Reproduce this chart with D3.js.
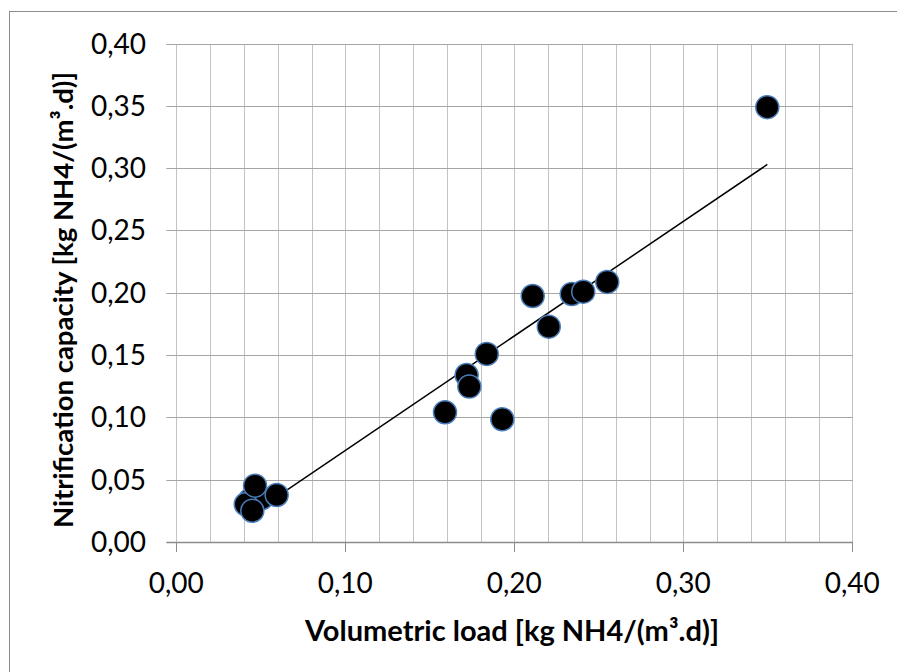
<!DOCTYPE html>
<html>
<head>
<meta charset="utf-8">
<script src="https://cdn.jsdelivr.net/npm/d3@7"></script>
<style>
  body { margin: 0; background: #fff; }
  svg text { font-family: Lato, "Open Sans", sans-serif; fill: #000; }
</style>
</head>
<body>
<svg id="chart" width="897" height="672"></svg>
<script>
// values (drawing order follows overlaps)
var loadValues = [0.0436, 0.0505, 0.0411, 0.0594, 0.0450, 0.0466, 0.159, 0.1718, 0.1734, 0.1837, 0.1929, 0.2109, 0.2204, 0.234, 0.2408, 0.255, 0.3497];
var capacityValues = [0.0337, 0.0351, 0.0303, 0.0377, 0.0251, 0.0452, 0.1041, 0.134, 0.1247, 0.1509, 0.0985, 0.1974, 0.1728, 0.199, 0.2009, 0.2087, 0.3489];
var xTicks = [0, 0.1, 0.2, 0.3, 0.4];
var xGrid = d3.range(0, 0.4001, 0.02);
var yTicks = [0, 0.05, 0.1, 0.15, 0.2, 0.25, 0.3, 0.35, 0.4];
var xTitle = "Volumetric load [kg NH4/(m³.d)]";
var yTitle = "Nitrification capacity [kg NH4/(m³.d)]";

var svg = d3.select("#chart");
var plotLeft = 176.3, plotRight = 852.3, plotTop = 43.5, plotBottom = 542;

var x = d3.scaleLinear().domain([0, 0.4]).range([plotLeft, plotRight]);
var y = d3.scaleLinear().domain([0, 0.4]).range([plotBottom, plotTop]);
var fmt = function(d){ return d3.format(".2f")(d).replace(".", ","); };
var px = function(v){ return Math.round(v) + 0.5; };

// chart border (runs off the right and bottom edge)
svg.append("rect")
	.attr("x", 9.5).attr("y", 11.5)
	.attr("width", 900).attr("height", 680)
	.attr("fill", "none").attr("stroke", "#8c8c8c").attr("stroke-width", 1);

// vertical grid every 0.02
svg.append("g")
	.selectAll("line")
	.data(xGrid)
	.join("line")
	.attr("x1", function(d){ return px(x(d)); })
	.attr("x2", function(d){ return px(x(d)); })
	.attr("y1", px(y(0.4))).attr("y2", px(y(0)))
	.attr("stroke", "#c3c3c3").attr("stroke-width", 1);

// horizontal grid with outward ticks
svg.append("g")
	.selectAll("line")
	.data(yTicks)
	.join("line")
	.attr("x1", plotLeft - 10).attr("x2", px(plotRight) + 0.5)
	.attr("y1", function(d){ return px(y(d)); })
	.attr("y2", function(d){ return px(y(d)); })
	.attr("stroke", function(d){ return d === 0 ? "#8c8c8c" : "#a6a6a6"; })
	.attr("stroke-width", function(d){ return d === 0 ? 1.5 : 1; });

// x axis ticks
svg.append("g")
	.selectAll("line")
	.data(xTicks)
	.join("line")
	.attr("x1", function(d){ return px(x(d)); })
	.attr("x2", function(d){ return px(x(d)); })
	.attr("y1", plotBottom).attr("y2", plotBottom + 10)
	.attr("stroke", "#8c8c8c").attr("stroke-width", 1);

svg.append("g")
	.selectAll("text")
	.data(xTicks)
	.join("text")
	.attr("x", function(d){ return x(d); })
	.attr("y", 593)
	.attr("text-anchor", "middle")
	.style("font-size", "28px")
	.text(fmt);

svg.append("g")
	.selectAll("text")
	.data(yTicks)
	.join("text")
	.attr("x", 146)
	.attr("y", function(d){ return y(d) + 10; })
	.attr("text-anchor", "end")
	.style("font-size", "28px")
	.text(fmt);

// trend line (least squares)
var reg = d3.zip(loadValues, capacityValues);
var mx = d3.mean(loadValues), my = d3.mean(capacityValues);
var sxy = d3.sum(reg, function(p){ return (p[0] - mx) * (p[1] - my); });
var sxx = d3.sum(reg, function(p){ return (p[0] - mx) * (p[0] - mx); });
var slope = sxy / sxx, icpt = my - slope * mx;
var xMin = d3.min(loadValues), xMax = d3.max(loadValues);

svg.append("line")
	.attr("x1", x(xMin)).attr("y1", y(slope * xMin + icpt))
	.attr("x2", x(xMax)).attr("y2", y(slope * xMax + icpt))
	.attr("stroke", "#000").attr("stroke-width", 1.5);

// points
svg.append("g")
	.selectAll("circle")
	.data(reg)
	.join("circle")
	.attr("cx", function(d){ return x(d[0]); })
	.attr("cy", function(d){ return y(d[1]); })
	.attr("r", 11.5)
	.attr("fill", "#000")
	.attr("stroke", "#4a7ebb").attr("stroke-width", 1.5);

// axis titles
svg.append("text")
	.attr("x", 512).attr("y", 641)
	.attr("text-anchor", "middle")
	.style("font-size", "29px").style("font-weight", "bold")
	.text(xTitle);

svg.append("text")
	.attr("transform", "translate(73,300) rotate(-90)")
	.attr("text-anchor", "middle")
	.style("font-size", "27.5px").style("font-weight", "bold")
	.text(yTitle);
</script>
</body>
</html>
